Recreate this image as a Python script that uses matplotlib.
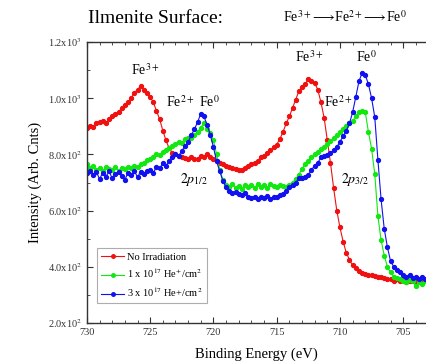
import numpy as np
import matplotlib
matplotlib.use('Agg')
import matplotlib.pyplot as plt
from matplotlib.ticker import MultipleLocator, FixedLocator, FixedFormatter

plt.rcParams['font.family'] = 'Liberation Serif'
plt.rcParams['mathtext.fontset'] = 'stix'

# --- datos (paso 0.25 eV, de 730 a 703 eV) ---
energia = np.arange(730.0, 702.99, -0.25)

sin_irradiar = [
    895, 902, 898, 910,
    915, 920, 912, 925,
    935, 945, 950, 965,
    975, 985, 1000, 1020,
    1030, 1044, 1028, 1020,
    1005, 985, 955, 925,
    885, 850, 822, 805,
    800, 795, 790, 788,
    785, 790, 783, 785,
    795, 790, 800, 790,
    785, 778, 770, 765,
    760, 755, 750, 748,
    744, 746, 752, 758,
    765, 770, 778, 790,
    795, 805, 815, 825,
    835, 855, 880, 910,
    935, 965, 995, 1025,
    1040, 1050, 1068, 1060,
    1055, 1030, 985, 930,
    850, 770, 680, 600,
    540, 490, 450, 425,
    405, 395, 385, 378,
    375, 370, 372, 368,
    365, 362, 360, 358,
    355, 350, 356, 348,
    352, 345, 350, 355,
    348, 352, 345, 350,
    350,
]

dosis_1e17 = [
    765, 750, 758, 745,
    752, 740, 755, 748,
    745, 755, 742, 750,
    748, 756, 752, 760,
    755, 765, 770, 780,
    785, 792, 800, 798,
    808, 815, 822, 830,
    838, 845, 842, 855,
    860, 858, 870, 880,
    895, 912, 890, 876,
    850, 800, 745, 710,
    692, 684, 695, 680,
    688, 678, 692, 684,
    690, 680, 695, 685,
    690, 682, 695, 688,
    684, 690, 686, 684,
    690, 700, 712, 728,
    748, 765, 778, 790,
    800, 808, 818, 826,
    838, 848, 858, 868,
    880, 892, 902, 910,
    918, 935, 950, 955,
    950, 880, 820, 730,
    580, 495, 440, 400,
    380, 365, 360, 355,
    350, 345, 352, 348,
    330, 345, 340, 350,
    345,
]

dosis_3e17 = [
    735, 740, 728, 738,
    712, 735, 720, 740,
    715, 730, 738, 722,
    710, 735, 725, 740,
    720, 738, 730, 742,
    745, 735, 755, 750,
    768, 760, 775, 790,
    800, 795, 812, 830,
    845, 868, 890, 915,
    945, 935, 905, 870,
    826, 775, 740, 705,
    684, 670, 662, 665,
    660, 655, 662, 648,
    645, 650, 642, 648,
    645, 652, 640, 650,
    648, 655, 660, 670,
    684, 690, 700, 715,
    715, 720, 728, 745,
    760, 770, 790, 795,
    798, 805, 815, 826,
    845, 865, 885, 910,
    950, 1004, 1060, 1090,
    1083, 1050, 1000, 933,
    780, 640, 535, 470,
    420, 400, 390, 380,
    372, 365, 370, 360,
    365, 358, 362, 355,
    360,
]

series = [
    (sin_irradiar, '#f01010', 'No Irradiation'),
    (dosis_1e17, '#10e810', r'1 x 10$^{17}$ He$^{+}$/cm$^{2}$'),
    (dosis_3e17, '#1010f0', r'3 x 10$^{17}$ He+/cm$^{2}$'),
]

y_ticks = [200, 400, 600, 800, 1000, 1200]
y_labels = [r'2.0x10$^{2}$', r'4.0x10$^{2}$', r'6.0x10$^{2}$',
            r'8.0x10$^{2}$', r'1.0x10$^{3}$', r'1.2x10$^{3}$']

# --- figura ---
fig = plt.figure(figsize=(4.26, 3.64), dpi=100)
ax = fig.add_axes([0.204, 0.1126, 0.796, 0.772])

for valores, color, etiqueta in series:
    ax.plot(energia, valores, '-o', color=color, lw=0.8, ms=2.8,
            mec=color, label=etiqueta)

ax.set_xlim(730, 703.2)
ax.set_ylim(200, 1200)
ax.xaxis.set_major_locator(MultipleLocator(5))
ax.xaxis.set_minor_locator(MultipleLocator(1))
ax.yaxis.set_major_locator(FixedLocator(y_ticks))
ax.yaxis.set_major_formatter(FixedFormatter(y_labels))
ax.yaxis.set_minor_locator(MultipleLocator(100))
ax.tick_params(which='both', direction='in', top=True, right=False,
               labelsize=7.5, colors='#333333')
ax.tick_params(which='major', length=4, width=0.8)
ax.tick_params(which='minor', length=2, width=0.6)
ax.spines['right'].set_visible(False)
for s in ['left', 'top', 'bottom']:
    ax.spines[s].set_linewidth(1.0)
    ax.spines[s].set_color('#333333')

ax.set_xlabel('Binding Energy (eV)', fontsize=10.5, labelpad=8)
ax.set_ylabel('Intensity (Arb. Cnts)', fontsize=10.5, labelpad=4)

# --- anotaciones ---
fs = 10
ax.text(725.4, 1083, r'Fe$^{3+}$', fontsize=fs, ha='center', va='baseline')
ax.text(722.65, 969, r'Fe$^{2+}$', fontsize=fs, ha='center', va='baseline')
ax.text(720.3, 969, r'Fe$^{0}$', fontsize=fs, ha='center', va='baseline')
ax.text(712.45, 1129, r'Fe$^{3+}$', fontsize=fs, ha='center', va='baseline')
ax.text(710.1, 969, r'Fe$^{2+}$', fontsize=fs, ha='center', va='baseline')
ax.text(707.9, 1129, r'Fe$^{0}$', fontsize=fs, ha='center', va='baseline')
ax.text(721.5, 710, r'$2p_{1/2}$', fontsize=fs, ha='center', va='center')
ax.text(708.8, 710, r'$2p_{3/2}$', fontsize=fs, ha='center', va='center')

fig.text(0.207, 0.95, 'Ilmenite Surface:', fontsize=14, ha='left', va='center')
fig.text(0.665, 0.953, r'Fe$^{3+}\!\longrightarrow\!$Fe$^{2+}\!\longrightarrow\!$Fe$^{0}$',
         fontsize=10, ha='left', va='center')

leg = ax.legend(loc='lower left', bbox_to_anchor=(0.03, 0.07), fontsize=7.5,
                frameon=True, fancybox=False, handlelength=2.2, borderpad=0.4,
                labelspacing=0.5, handletextpad=0.3, borderaxespad=0,
                markerscale=0.9, numpoints=1)
leg.get_frame().set_edgecolor('#999999')
leg.get_frame().set_linewidth(0.8)

plt.savefig('out.png', dpi=100)
